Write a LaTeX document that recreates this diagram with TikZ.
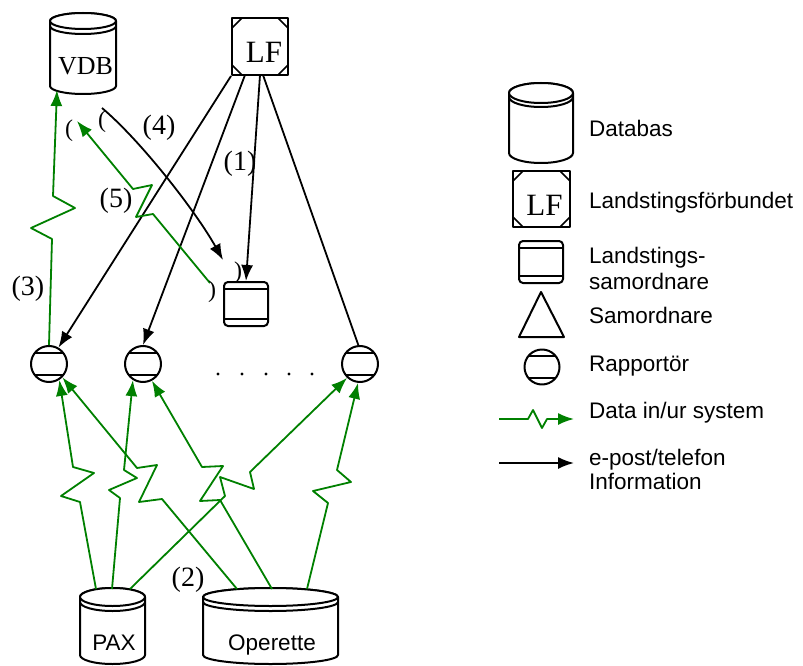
\documentclass[tikz,border=0pt]{standalone}
\usepackage{fontspec}
\setmainfont{Liberation Sans}
\newfontfamily\tms{Liberation Serif}
\usetikzlibrary{arrows.meta}
\definecolor{dgreen}{RGB}{0,128,0}
\newcommand\mycyl[6]{% L, R, top, bottom, ry, d
  \pgfmathsetmacro\cylcx{(#1+#2)/2}\pgfmathsetmacro\cylrx{(#2-#1)/2}
  \filldraw[shp] (#1,#3+#5) -- (#1,#4-#5) arc[start angle=180,end angle=360,x radius=\cylrx pt,y radius=#5pt] -- (#2,#3+#5) arc[start angle=0,end angle=180,x radius=\cylrx pt,y radius=#5pt] -- cycle;
  \draw[shp] (\cylcx,#3+#5) ellipse[x radius=\cylrx pt,y radius=#5pt];
  \draw[shp,fill=none] (#1,#3+#5+#6) arc[start angle=180,end angle=360,x radius=\cylrx pt,y radius=#5pt];
}
\begin{document}
\begin{tikzpicture}[x=1pt,y=-1pt,line join=round,
  shp/.style={draw=black,line width=2pt,fill=white},
  blk/.style={draw=black,line width=1.8pt},
  grn/.style={draw=dgreen,line width=1.8pt},
  tip/.style={-{Latex[length=16pt,width=12pt]}},
  lbl/.style={font=\tms\fontsize{28}{28}\selectfont,inner sep=0pt,anchor=base},
  par/.style={font=\tms\fontsize{24}{24}\selectfont,inner sep=0pt,anchor=base},
  leg/.style={font=\fontsize{22.5}{26}\selectfont,inner sep=0pt,anchor=base west},
  rap/.style={circle,draw,line width=2pt,minimum size=#1,inner sep=0pt,fill=white,
    path picture={\draw[line width=2pt] ([yshift=11pt]path picture bounding box.west) -- ([yshift=11pt]path picture bounding box.east)
      ([yshift=-11pt]path picture bounding box.west) -- ([yshift=-11pt]path picture bounding box.east);}},
  rap/.default=36pt,
  lfbox/.style={rectangle,draw,line width=2pt,minimum width=56pt,minimum height=57pt,inner sep=0pt,fill=white,
    path picture={\draw[line width=1.6pt]
      ([yshift=-10pt]path picture bounding box.north west) -- ([xshift=10pt]path picture bounding box.north west)
      ([yshift=-10pt]path picture bounding box.north east) -- ([xshift=-10pt]path picture bounding box.north east)
      ([yshift=10pt]path picture bounding box.south west) -- ([xshift=10pt]path picture bounding box.south west)
      ([yshift=10pt]path picture bounding box.south east) -- ([xshift=-10pt]path picture bounding box.south east);}},
  lsbox/.style={rectangle,rounded corners=4pt,draw,line width=2pt,minimum width=44pt,minimum height=#1,inner sep=0pt,fill=white,
    path picture={\draw[line width=2pt]
      ([yshift=-7pt]path picture bounding box.north west) -- ([yshift=-7pt]path picture bounding box.north east)
      ([yshift=7pt]path picture bounding box.south west) -- ([yshift=7pt]path picture bounding box.south east);}},
  lsbox/.default=44pt]
\useasboundingbox (0,0) rectangle (803,666);

% ---------- shapes ----------
\mycyl{50}{116}{13}{94}{8}{5}
\node[font=\tms\fontsize{26}{26}\selectfont,inner sep=0pt,anchor=base] (vdb) at (85.5,75) {VDB};
\node[lfbox] (lf) at (260,46.5) {};
\node[font=\tms\fontsize{31}{31}\selectfont,inner sep=0pt,anchor=base] (lft) at (264,63) {LF};
\node[lsbox] (ls) at (246,304) {};
\node[rap] (r1) at (49,364) {};
\node[rap] (r2) at (143,364) {};
\node[rap] (r3) at (360,364) {};
\foreach \i/\x in {1/218,2/242,3/266,4/289,5/312}{\fill (\x,374) circle[radius=1.7pt];}
\mycyl{80}{145}{588}{664}{9}{5}
\node[font=\fontsize{22.5}{22.5}\selectfont,inner sep=0pt,anchor=base] (pax) at (114,650) {PAX};
\mycyl{203}{338}{588}{664}{9}{5}
\node[font=\fontsize{22.5}{22.5}\selectfont,inner sep=0pt,anchor=base] (op) at (272,650) {Operette};

% ---------- coordinates ----------
\coordinate (vdbin) at (57,90);
\coordinate (lfb) at (245,75);
\coordinate (lfc) at (260,75);
\coordinate (lfd) at (263,75);
\coordinate (c4s) at (102,108);
\coordinate (c4e) at (223,260);
\coordinate (p5s) at (210,283);
\coordinate (p5e) at (77,121);
\coordinate (pax1) at (96,589);
\coordinate (pax2) at (112,589);
\coordinate (pax3) at (130,589);
\coordinate (op1) at (237,589);
\coordinate (op2) at (272,589);
\coordinate (op3) at (307,589);

% ---------- black connectors ----------
\draw[blk,tip] (lf.south west) -- (r1.60);
\draw[blk,tip] (lfb) -- (r2.north);
\draw[blk,tip] (lfc) -- (ls.north);
\draw[blk] (lfd) -- (r3.95);
\draw[blk,tip] (c4s) .. controls (140,140) and (195,210) .. (c4e);

% ---------- green connectors ----------
\draw[grn,tip] (r1.north) -- (52,239) -- (31,228) -- (75,208) -- (53,196) -- (vdbin);
\draw[grn,tip] (p5s) -- (153,214) -- (136,217) -- (152,185) -- (133,189) -- (p5e);
\draw[grn,tip] (pax1) -- (80,502) -- (61,496) -- (94,473) -- (73,467) -- (r1.-57);
\draw[grn,tip] (pax2) -- (120,498) -- (109,490) -- (137,478) -- (124,470) -- (r2.-122);
\draw[grn,tip] (op1) -- (162,499) -- (139,502) -- (157,465) -- (137,468) -- (r1.-45);
\draw[grn,tip] (op2) -- (220,500) -- (200,501) -- (223,466) -- (202,467) -- (r2.-62);
\draw[grn,tip] (pax3) -- (225,496) -- (220,477) -- (254,489) -- (250,472) -- (r3.-133);
\draw[grn,tip] (op3) -- (328,503) -- (313,491) -- (351,482) -- (337,470) -- (r3.-96);

% ---------- labels ----------
\node[lbl] (l4) at (159,135) {(4)};
\node[lbl] (l1) at (240,170) {(1)};
\node[lbl] (l5) at (116,207) {(5)};
\node[lbl] (l3) at (28,295) {(3)};
\node[lbl] (l2) at (188,586) {(2)};
\node[par] (pa) at (69,137) {(};
\node[par] (pb) at (102,128) {(};
\node[par] (pc) at (212,297) {)};
\node[par] (pd) at (238,278) {)};

% ---------- legend ----------
\mycyl{509}{573}{83}{163}{10}{4}
\node[lfbox,minimum width=57pt,minimum height=56pt] (llf) at (541.5,199) {};
\node[font=\tms\fontsize{31}{31}\selectfont,inner sep=0pt,anchor=base] (llft) at (544.5,215) {LF};
\node[lsbox=42pt] (lls) at (541,262) {};
\draw[shp,fill=none] (541,292) -- (564,337) -- (519,337) -- cycle;
\node[rap=35pt] (lr) at (542,367) {};
\coordinate (lg1) at (499,419);
\coordinate (lg2) at (574,419);
\coordinate (lb1) at (499,463);
\coordinate (lb2) at (574,463);
\draw[grn,tip] (lg1) -- (528,419) -- (533,410) -- (542,428) -- (547,419) -- (lg2);
\draw[blk,tip] (lb1) -- (lb2);

\node[leg] (t1) at (589,137) {Databas};
\node[leg] (t2) at (589,208) {Landstingsförbundet};
\node[leg] (t3) at (589,263) {Landstings-};
\node[leg] (t4) at (589,289) {samordnare};
\node[leg] (t5) at (589,323) {Samordnare};
\node[leg] (t6) at (589,371) {Rapportör};
\node[leg] (t7) at (589,418) {Data in/ur system};
\node[leg] (t8) at (589,465) {e-post/telefon};
\node[leg] (t9) at (589,489) {Information};
\end{tikzpicture}
\end{document}
